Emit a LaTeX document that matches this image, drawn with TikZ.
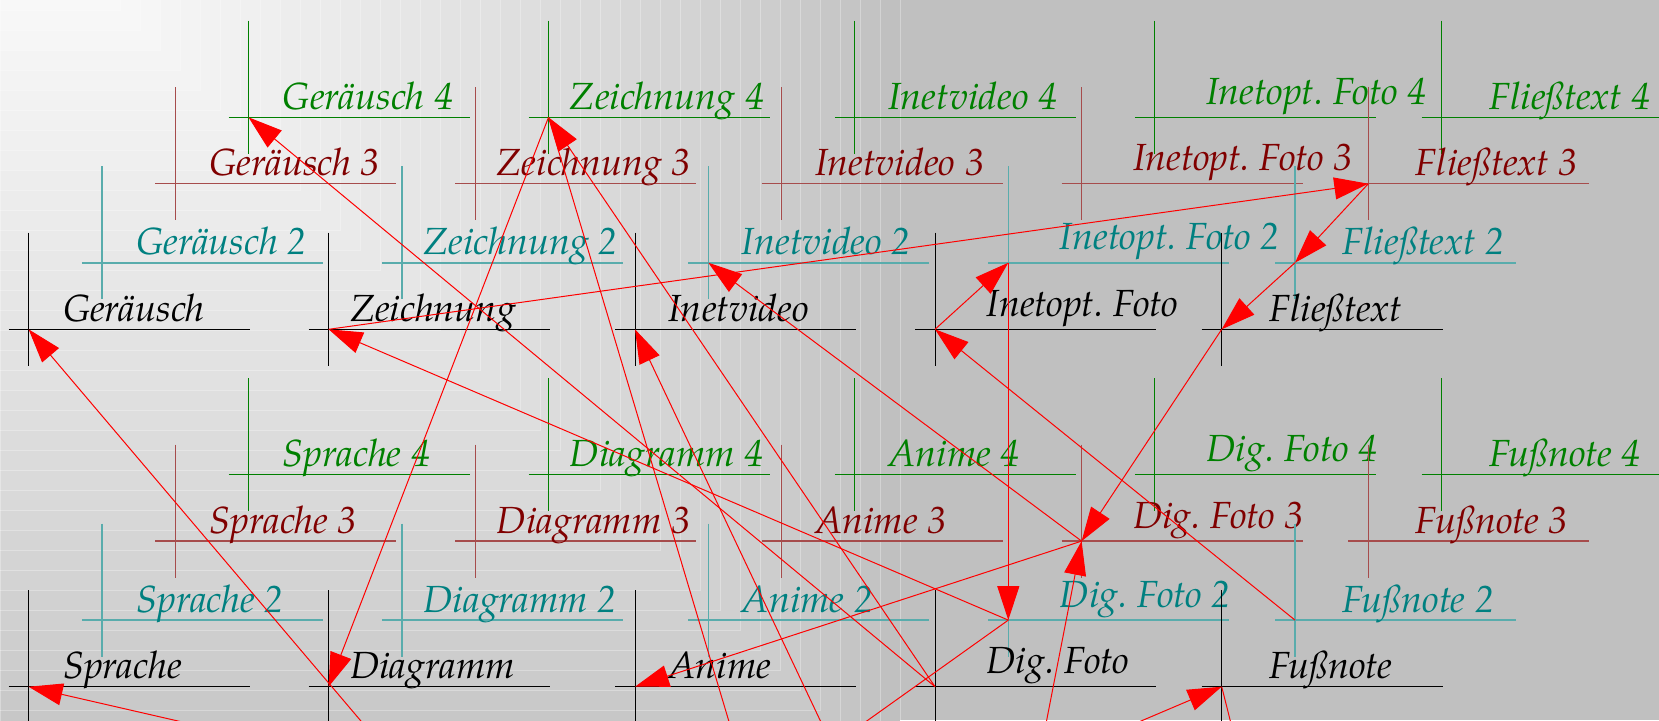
\documentclass[tikz,border=0pt]{standalone}
\usepackage{fontspec}
\newfontfamily\beschrift{texgyrepagella-italic.otf}
\usetikzlibrary{arrows.meta}
\definecolor{hgrau}{RGB}{192,192,192}
\definecolor{gruen}{RGB}{0,128,0}
\definecolor{rot}{RGB}{128,0,0}
\definecolor{tuerkis}{RGB}{0,128,128}
\tikzset{linie1/.style={black,line width=0.5pt},
	 linie2/.style={tuerkis!65,line width=0.8pt},
	 linie3/.style={rot!70,line width=0.7pt},
	 linie4/.style={gruen,line width=0.5pt},
	 schrift/.style={font=\beschrift\fontsize{18.9}{21}\selectfont,inner sep=0pt,anchor=base west},
	 schrift1/.style={schrift,text=black},
	 schrift2/.style={schrift,text=tuerkis},
	 schrift3/.style={schrift,text=rot},
	 schrift4/.style={schrift,text=gruen},
	 pfeil/.style={red,line width=0.5pt,-{Triangle[length=17pt,width=11pt]}}
	 }

\begin{document}
\begin{tikzpicture}[x=0.5pt,y=-0.5pt] % Medien
	\useasboundingbox (0,0) rectangle (1659,720);
	\clip (0,0) rectangle (1659,720);
	\fill[hgrau] (0,0) rectangle (1659,720);
	\foreach \k in {0,...,44} {
		\pgfmathtruncatemacro\p{100*(\k/45)^0.8}
		\pgfmathsetmacro\s{900-20*\k}
		\filldraw[fill=white!\p!hgrau,draw=white,draw opacity=0.3,line width=0.3pt] (0,-110) rectangle (\s,\s-110);
	}
	\foreach \n/\t/\cx/\cy/\dx/\dy in {ger/Geräusch/28.6/329.3/34/8, zei/Zeichnung/328.6/329.3/21/8,
		vid/Inetvideo/635/329.3/33/8, opt/Inetopt.\ Foto/935/329.3/51/13, fli/Fließtext/1221.7/329.3/47/8,
		spr/Sprache/28.6/686.7/34/8, dia/Diagramm/328.6/686.7/21/8,
		ani/Anime/635/686.7/33/8, dig/Dig.\ Foto/935/686.7/51/13, fus/Fußnote/1221.7/686.7/47/8} {
		\foreach \l/\lx/\ly in {4/219.9/212, 3/146.6/145.6, 2/73.3/66.6, 1/0/0} {
			\coordinate (\n\l) at (\cx+\lx,\cy-\ly);
			\draw[linie\l] (\cx+\lx-20,\cy-\ly) -- ++(241,0);
			\draw[linie\l] (\cx+\lx,\cy-\ly-96.6) -- ++(0,133.3);
			\node[schrift\l] (\n\l-t) at (\cx+\lx+\dx,\cy-\ly-\dy) {\t\ifnum\l>1\ \l\fi};
		}
	}
	\coordinate (unten1) at (781.7,898.1);
	\coordinate (unten2) at (635,1044);
	\coordinate (unten3) at (1295,977.4);
	\coordinate (unten4) at (973.4,1044);
	\coordinate (unten5) at (996.5,977.4);
	\coordinate (unten6) at (711,832);
	\coordinate (unten7) at (879.8,832);
	\draw[pfeil] (dig1) -- (ger4);
	\draw[pfeil] (zei4) -- (dia1);
	\draw[pfeil] (dig1) -- (zei4);
	\draw[pfeil] (zei4) -- (unten1);
	\draw[pfeil] (unten2) -- (ger1);
	\draw[pfeil] (unten3) -- (spr1);
	\draw[pfeil] (unten4) -- (vid1);
	\draw[pfeil] (dig2) -- (zei1);
	\draw[pfeil] (zei1) -- (fli3);
	\draw[pfeil] (fli3) -- (fli2);
	\draw[pfeil] (fli2) -- (fli1);
	\draw[pfeil] (fli1) -- (dig3);
	\draw[pfeil] (dig3) -- (vid2);
	\draw[pfeil] (dig3) -- (ani1);
	\draw[pfeil] (unten5) -- (dig3);
	\draw[pfeil] (opt2) -- (dig2);
	\draw[pfeil] (opt1) -- (opt2);
	\draw[pfeil] (fus2) -- (opt1);
	\draw[pfeil] (dig2) -- (unten6);
	\draw[pfeil] (unten7) -- (fus1);
	\draw[pfeil] (fus1) -- (unten3);
\end{tikzpicture}
\end{document}
